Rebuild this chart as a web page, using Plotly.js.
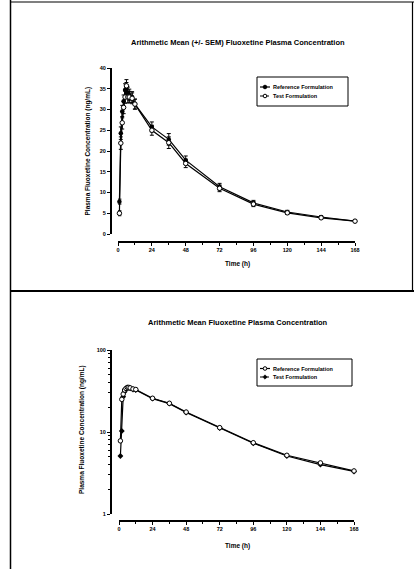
<!DOCTYPE html>
<html>
<head>
<meta charset="utf-8">
<script src="https://cdn.plot.ly/plotly-3.0.1.min.js"></script>
<style>html,body{margin:0;padding:0;background:#fff;}#chart{width:414px;height:569px;}</style>
</head>
<body>
<div id="chart"></div>
<script>
// ---- data ----
const timesH = [1, 2, 3, 4, 5, 6, 7, 8, 10, 12, 24, 36, 48, 72, 96, 120, 144, 168];
const linRef = [7.8, 24.3, 29.5, 32.0, 34.7, 35.0, 34.0, 33.5, 33.0, 31.3, 25.8, 22.8, 17.8, 11.4, 7.5, 5.3, 4.1, 3.1];
const linTest = [5.0, 21.9, 26.8, 30.5, 33.0, 35.7, 33.0, 33.0, 32.7, 31.3, 25.0, 22.0, 17.0, 11.0, 7.2, 5.1, 3.9, 3.1];
const semRef = [0.6, 1.5, 1.5, 1.5, 1.5, 1.5, 1.4, 1.4, 1.3, 1.2, 1.2, 1.4, 1.0, 0.8, 0.6, 0.4, 0.3, 0.3];
const semTest = [0.6, 1.5, 1.5, 1.5, 1.5, 1.5, 1.4, 1.4, 1.3, 1.2, 1.2, 1.4, 1.0, 0.8, 0.6, 0.4, 0.3, 0.3];
const logRef = [7.8, 25.0, 29.0, 32.5, 34.0, 35.0, 35.0, 34.5, 33.5, 33.0, 25.8, 22.4, 17.5, 11.3, 7.4, 5.2, 4.2, 3.35];
const logTest = [5.1, 10.3, 27.0, 31.0, 33.0, 34.0, 34.5, 34.0, 33.0, 32.5, 25.5, 22.2, 17.3, 11.2, 7.3, 5.1, 4.0, 3.3];
const xTicks = [0, 24, 48, 72, 96, 120, 144, 168];
const seriesNames = ["Reference Formulation", "Test Formulation"];
const titleTop = "Arithmetic Mean (+/- SEM) Fluoxetine Plasma Concentration";
const titleBottom = "Arithmetic Mean Fluoxetine Plasma Concentration";
const yTitle = "Plasma Fluoxetine Concentration (ng/mL)";
const xTitle = "Time (h)";

// ---- layout helpers (pixel -> paper) ----
const W = 414, H = 569;
const X = px => px / W;
const Y = py => 1 - py / H;
const FONT = "Liberation Sans, Arial, sans-serif";

const lineStyle = {color: "#000", width: 1.2};

const traces = [
  {x: timesH, y: linRef, xaxis: "x", yaxis: "y", mode: "lines+markers", name: seriesNames[0],
   line: lineStyle, marker: {symbol: "circle", size: 4.5, color: "#000"},
   error_y: {type: "data", array: semRef, visible: true, color: "#000", thickness: 1, width: 2},
   cliponaxis: false, showlegend: false},
  {x: timesH, y: linTest, xaxis: "x", yaxis: "y", mode: "lines+markers", name: seriesNames[1],
   line: lineStyle, marker: {symbol: "circle", size: 4.5, color: "#fff", line: {color: "#000", width: 1}},
   error_y: {type: "data", array: semTest, visible: true, color: "#000", thickness: 1, width: 2},
   cliponaxis: false, showlegend: false},
  {x: timesH, y: logTest, xaxis: "x2", yaxis: "y2", mode: "lines+markers", name: seriesNames[1],
   line: lineStyle, marker: {symbol: "diamond", size: 4.5, color: "#000"},
   cliponaxis: false, showlegend: false},
  {x: timesH, y: logRef, xaxis: "x2", yaxis: "y2", mode: "lines+markers", name: seriesNames[0],
   line: lineStyle, marker: {symbol: "circle", size: 4.5, color: "#fff", line: {color: "#000", width: 1}},
   cliponaxis: false, showlegend: false}
];

const tickFont = {family: FONT, size: 5.5, color: "#000", weight: "bold"};
const axisCommon = {showline: true, linecolor: "#000", linewidth: 1.5, showgrid: false, zeroline: false,
  ticks: "outside", ticklen: 3, tickwidth: 1, tickcolor: "#000", tickfont: tickFont, automargin: false, fixedrange: true};

const layout = {
  width: W, height: H,
  margin: {l: 0, r: 0, t: 0, b: 0},
  paper_bgcolor: "#fff", plot_bgcolor: "rgba(0,0,0,0)",
  showlegend: false,
  font: {family: FONT, color: "#000"},
  xaxis: Object.assign({}, axisCommon, {domain: [X(118), X(355)], range: [0, 168], anchor: "free", position: Y(241),
    tickvals: xTicks, minor: {ticks: "outside", ticklen: 2, dtick: 12, tick0: 0, tickcolor: "#000"}}),
  yaxis: Object.assign({}, axisCommon, {domain: [Y(234), Y(68)], range: [0, 40], dtick: 5, anchor: "free", position: X(110)}),
  xaxis2: Object.assign({}, axisCommon, {domain: [X(119), X(354)], range: [0, 168], anchor: "free", position: Y(520),
    tickvals: xTicks, minor: {ticks: "outside", ticklen: 2, dtick: 12, tick0: 0, tickcolor: "#000"}}),
  yaxis2: Object.assign({}, axisCommon, {type: "log", domain: [Y(514), Y(350)], range: [0, 2], dtick: 1, anchor: "free", position: X(110),
    minor: {ticks: "outside", ticklen: 2, dtick: "D1", tickcolor: "#000"}}),
  annotations: [],
  shapes: []
};

function txt(text, px, py, size, angle) {
  layout.annotations.push({text: text, x: X(px), y: Y(py), xref: "paper", yref: "paper",
    xanchor: "center", yanchor: "middle", showarrow: false, textangle: angle || 0,
    font: {family: FONT, size: size, color: "#000", weight: "bold"}});
}
function ltxt(text, px, py, size) {
  layout.annotations.push({text: text, x: X(px), y: Y(py), xref: "paper", yref: "paper",
    xanchor: "left", yanchor: "middle", showarrow: false,
    font: {family: FONT, size: size, color: "#000", weight: "bold"}});
}
function line(x0, y0, x1, y1, w, dash) {
  layout.shapes.push({type: "line", xref: "paper", yref: "paper", x0: X(x0), y0: Y(y0), x1: X(x1), y1: Y(y1),
    line: {color: "#000", width: w, dash: dash || "solid"}});
}
function rect(x0, y0, x1, y1, w) {
  layout.shapes.push({type: "rect", xref: "paper", yref: "paper", x0: X(x0), y0: Y(y0), x1: X(x1), y1: Y(y1),
    line: {color: "#000", width: w}, fillcolor: "#fff"});
}
function dot(cx, cy, r, filled) {
  layout.shapes.push({type: "circle", xref: "paper", yref: "paper", x0: X(cx - r), y0: Y(cy + r), x1: X(cx + r), y1: Y(cy - r),
    line: {color: "#000", width: 1}, fillcolor: filled ? "#000" : "#fff"});
}
function diamond(cx, cy, r) {
  layout.shapes.push({type: "path", xref: "paper", yref: "paper",
    path: `M ${X(cx)} ${Y(cy - r)} L ${X(cx + r)} ${Y(cy)} L ${X(cx)} ${Y(cy + r)} L ${X(cx - r)} ${Y(cy)} Z`,
    line: {color: "#000", width: 0.5}, fillcolor: "#000"});
}

// page frame (scanned document borders)
line(10.5, 0, 10.5, 569, 1.5);
line(10, 2, 414, 2, 1.2);
line(412.5, 2, 412.5, 291, 1.2);
line(10, 291, 414, 291, 2);

// titles
txt(titleTop, 238, 42, 7.5);
txt(titleBottom, 238, 322, 7.5);
txt(xTitle, 237, 264, 6.5);
txt(xTitle, 237, 546, 6.5);
txt(yTitle, 87, 151.5, 6.5, -90);
txt(yTitle, 82, 430, 6.5, -90);

// legend, top
rect(257, 77, 348, 106, 1);
line(260, 87, 270, 87, 1.2); dot(265, 87, 1.8, true);
line(260, 96, 270, 96, 1.2, "dot"); dot(265, 96, 1.8, false);
ltxt(seriesNames[0], 271, 87, 5.5);
ltxt(seriesNames[1], 271, 96, 5.5);

// legend, bottom
rect(257, 359, 352, 386, 1);
line(260, 368.5, 270, 368.5, 1.2); dot(265, 368.5, 1.8, false);
line(260, 377, 270, 377, 1.2, "dot"); diamond(265, 377, 2.2);
ltxt(seriesNames[0], 271, 368.5, 5.5);
ltxt(seriesNames[1], 271, 377, 5.5);

Plotly.newPlot("chart", traces, layout, {staticPlot: true, displayModeBar: false});
</script>
</body>
</html>
